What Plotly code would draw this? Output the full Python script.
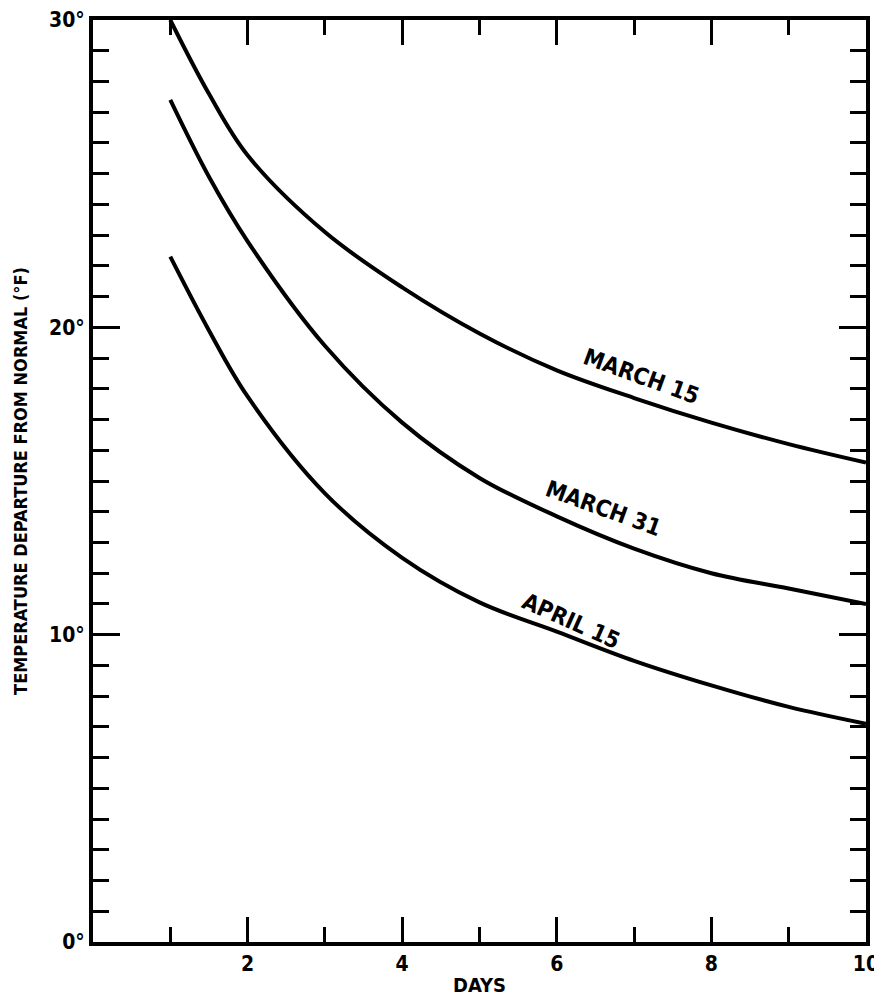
import plotly.graph_objects as go

days = [1, 1.5, 2, 3, 4, 5, 6, 7, 8, 9, 10]
march15 = [30.0, 27.6, 25.6, 23.1, 21.3, 19.8, 18.6, 17.7, 16.9, 16.2, 15.6]
march31 = [27.4, 24.9, 22.8, 19.4, 16.9, 15.1, 13.85, 12.8, 12.0, 11.5, 11.0]
april15 = [22.3, 19.9, 17.75, 14.6, 12.5, 11.05, 10.1, 9.15, 8.35, 7.65, 7.1]

labels = ["MARCH 15", "MARCH 31", "APRIL 15"]
label_x = [7.09, 6.60, 6.19]
label_y = [18.43, 14.12, 10.43]
label_angle = [20, 20, 24]

ytick_vals = [0, 10, 20, 30]
ytick_text = ["0°", "10°", "20°", "30°"]
xtick_vals = [2, 4, 6, 8, 10]
xtick_text = ["2", "4", "6", "8", "10"]

FONT = "'DejaVu Sans Condensed', 'Liberation Sans Narrow', 'Roboto', sans-serif"

fig = go.Figure()
for series in (march15, march31, april15):
    fig.add_trace(go.Scatter(x=days, y=series, mode="lines",
                             line=dict(color="black", width=4, shape="spline", smoothing=1.0),
                             showlegend=False, hoverinfo="skip"))

for t, x, y, a in zip(labels, label_x, label_y, label_angle):
    fig.add_annotation(x=x, y=y, text=t, showarrow=False, textangle=a,
                       font=dict(family=FONT, size=23, color="black", weight="bold"))

fig.update_layout(
    width=882, height=1001,
    margin=dict(l=85, r=24, t=12, b=67),
    paper_bgcolor="white", plot_bgcolor="white",
    font=dict(family=FONT, color="black", size=20, weight="bold"),
)
fig.update_xaxes(range=[0, 10], showgrid=False, zeroline=False, automargin=False,
                 showline=True, linecolor="black", linewidth=4, mirror="allticks",
                 ticks="inside", ticklen=25, tickwidth=3, tickcolor="black",
                 tickvals=xtick_vals, ticktext=xtick_text,
                 tickfont=dict(family=FONT, size=21, weight="bold"),
                 minor=dict(dtick=1, tick0=0, ticks="inside", ticklen=15, tickwidth=3, tickcolor="black", showgrid=False),
                 title=dict(text="DAYS", font=dict(family=FONT, size=20, weight="bold"), standoff=4))
fig.update_yaxes(range=[0, 30], showgrid=False, zeroline=False, automargin=False,
                 showline=True, linecolor="black", linewidth=4, mirror="allticks",
                 ticks="inside", ticklen=27, tickwidth=3, tickcolor="black",
                 tickvals=ytick_vals, ticktext=ytick_text,
                 tickfont=dict(family=FONT, size=21, weight="bold"),
                 minor=dict(dtick=1, tick0=0, ticks="inside", ticklen=16, tickwidth=3, tickcolor="black", showgrid=False),
                 title=dict(text="TEMPERATURE DEPARTURE FROM NORMAL (°F)", font=dict(family=FONT, size=18, weight="bold"), standoff=18))

fig.write_html("out.html")
